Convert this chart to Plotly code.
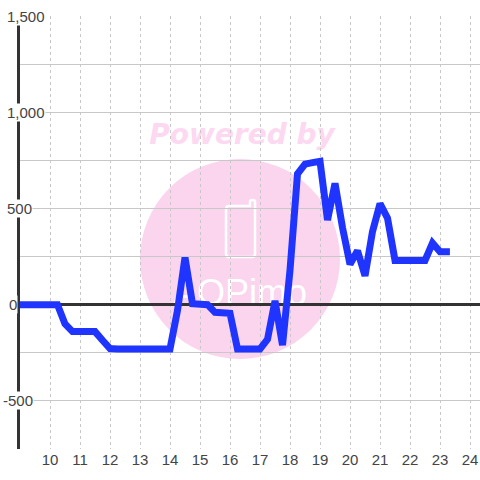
import plotly.graph_objects as go

hours = [9 + 0.25 * i for i in range(58)]
hours[0] = 8.9
hours[-1] = 23.33
values = [0, 0, 0, 0, 0, 0,                       # 9 - 10.25
          -100, -140, -140, -140, -140, -185,     # 10.5 - 11.75
          -228, -230, -230, -230, -230, -230, -230, -230, -230,  # 12 - 14
          -30, 245, 5, 5, 0, -40, -42, -45,       # 14.25 - 16
          -230, -230, -230, -230, -180, 20, -210, 180,  # 16.25 - 18
          680, 730, 738, 745,                     # 18.25 - 19
          440, 630, 400, 210,                     # 19.25 - 20
          280, 150, 380, 525,                     # 20.25 - 21
          450, 230, 230, 230, 230, 230,           # 21.25 - 22.5
          320, 275, 275]                          # 22.75 - 23.25
x_ticks = list(range(10, 25))
y_grid = [-750, -500, -250, 0, 250, 500, 750, 1000, 1250, 1500]
y_labels = ["1,500", "1,000", "500", "0", "-500"]
y_label_values = [1500, 1000, 500, 0, -500]
y_label_left = [6, 6, 6, 8, 2]

PINK = "#fbd5ee"
L, T, B = 20, 16, 31
FIG = 480


def fx(p):
    return (p - 20) / 460


def fy(p):
    return (449 - p) / 433


fig = go.Figure()
fig.add_trace(go.Scatter(x=hours, y=values, mode="lines",
                         line=dict(color="#1f35ff", width=7), cliponaxis=False,
                         hoverinfo="skip", showlegend=False))

phone = (f"M {fx(229)} {fy(206)} L {fx(250)} {fy(206)} L {fx(250)} {fy(202)} "
         f"Q {fx(250)} {fy(200)} {fx(252.5)} {fy(200)} Q {fx(255)} {fy(200)} {fx(255)} {fy(202)} "
         f"L {fx(255)} {fy(254)} Q {fx(255)} {fy(257)} {fx(252)} {fy(257)} "
         f"L {fx(229)} {fy(257)} Q {fx(226)} {fy(257)} {fx(226)} {fy(254)} "
         f"L {fx(226)} {fy(209)} Q {fx(226)} {fy(206)} {fx(229)} {fy(206)} Z")
shapes = [
    dict(type="circle", xref="paper", yref="paper", layer="below",
         x0=fx(140), x1=fx(340), y0=fy(359), y1=fy(159), fillcolor=PINK, line_width=0),
    dict(type="path", xref="paper", yref="paper", layer="below", path=phone,
         line=dict(color="white", width=2.5), fillcolor="rgba(0,0,0,0)"),
    dict(type="rect", xref="paper", yref="paper", layer="below",
         x0=fx(142), x1=fx(342), y0=fy(148), y1=fy(116),
         line_width=0, fillcolor="rgba(0,0,0,0)",
         label=dict(text="Powered by",
                    font=dict(family="DejaVu Sans", size=28, color="#fcd9f0",
                              weight="bold", style="italic"),
                    textposition="middle center")),
    dict(type="rect", xref="paper", yref="paper", layer="below",
         x0=fx(165), x1=fx(315), y0=fy(309), y1=fy(269),
         line_width=0, fillcolor="rgba(0,0,0,0)",
         label=dict(text="AQPimo",
                    font=dict(family="Liberation Sans", size=36, color="white"),
                    textposition="middle center")),
]

annotations = [
    dict(xref="paper", yref="y", x=fx(x0), y=v, text=t, showarrow=False, xanchor="left",
         yanchor="middle", bgcolor="white", borderpad=0,
         font=dict(family="Liberation Sans", size=15, color="#444444"))
    for v, t, x0 in zip(y_label_values, y_labels, y_label_left)
]

fig.update_layout(
    width=FIG, height=FIG, autosize=False,
    margin=dict(l=L, r=0, t=T, b=B, pad=0),
    paper_bgcolor="white", plot_bgcolor="rgba(0,0,0,0)",
    shapes=shapes, annotations=annotations, showlegend=False,
    xaxis=dict(range=[9, 24.333], tickvals=x_ticks, ticktext=[str(t) for t in x_ticks],
               showgrid=True, gridcolor="#c8c8c8", griddash="3px,3px", gridwidth=1,
               zeroline=False, showline=False, ticks="",
               tickfont=dict(family="Liberation Sans", size=15, color="#444444")),
    yaxis=dict(range=[-750, 1500], tickvals=y_grid, showticklabels=False,
               showgrid=True, gridcolor="#c8c8c8", gridwidth=1,
               zeroline=True, zerolinecolor="#333333", zerolinewidth=3,
               showline=True, linecolor="#333333", linewidth=3, ticks="", layer="below traces"),
)
fig.write_html("out.html", config=dict(displayModeBar=False),
               post_script="document.body.style.margin='0';document.documentElement.style.overflow='hidden';")
